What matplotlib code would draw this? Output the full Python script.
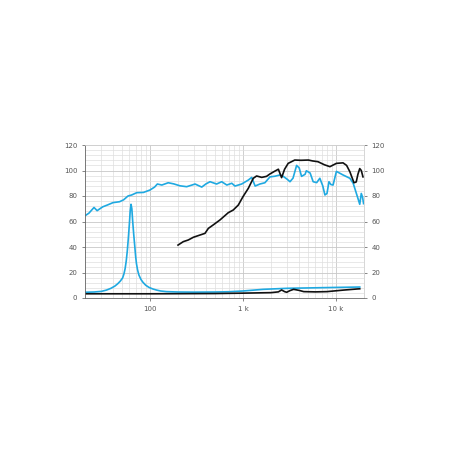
import matplotlib
matplotlib.use("Agg")
import matplotlib.pyplot as plt
from matplotlib.ticker import FixedLocator, MultipleLocator, LogLocator, NullFormatter

# blue curve (woofer) SPL
blue_spl_f = [20, 22, 25, 27, 31, 35, 40, 47, 52, 58, 63.5, 72, 85, 100, 112, 120, 134,
              157, 180, 210, 248, 280, 305, 360, 400, 442, 520, 590, 670, 757, 820, 967,
              1140, 1240, 1350, 1520, 1720, 1950, 2200, 2500, 2700, 3000, 3200, 3450, 3770,
              4020, 4260, 4650, 4800, 5270, 5680, 6200, 6700, 7200, 7600, 8000, 8400, 8800,
              9300, 10100, 11900, 14100, 15300, 17200, 18000, 18700, 19300, 19800]
blue_spl_db = [64.5, 66.5, 71, 68.5, 71.5, 73, 74.8, 75.5, 77, 80, 80.8, 82.6, 82.8, 84.7,
               87, 89.4, 88.6, 90.4, 89.5, 88, 87.3, 88.5, 89.4, 87, 89.5, 91.2, 89.4, 91.2,
               88.6, 90, 87.8, 89.4, 92.5, 94.6, 87.8, 89.4, 90.4, 95, 95.5, 96.5, 95.5, 93,
               91.2, 94, 104, 102, 95.4, 97, 99.8, 98, 91.2, 90.5, 93.9, 88, 80.8, 82, 91.2,
               89, 88.6, 99.3, 96.5, 93.9, 90, 78.2, 73.5, 82, 79, 74]

# black curve (tweeter) SPL
black_spl_f = [200, 215, 228, 258, 292, 345, 390, 424, 478, 565, 694, 785, 890, 1000, 1140,
               1290, 1400, 1590, 1790, 1950, 2200, 2400, 2600, 2800, 3060, 3600, 4200, 5050,
               5600, 6400, 7500, 8600, 10100, 11900, 13000, 14100, 15600, 16500, 17200,
               18000, 18700, 19500]
black_spl_db = [41.5, 43, 44.2, 45.5, 47.6, 49.4, 50.7, 54.6, 57.3, 61.2, 66.9, 69, 72.9,
                79.5, 86, 93.9, 95.7, 94.6, 95.4, 97.3, 99.5, 101, 94.4, 101, 105.6, 108.2,
                108, 108.2, 107.5, 106.9, 104.5, 103, 105.6, 106, 104, 99, 90.4, 91, 97,
                101.5, 100, 95]

# impedance curves
blue_imp_f = [20, 25, 30, 34, 38, 42, 45, 48, 50.8, 52.5, 54, 55.5, 57, 58.5, 60, 61.2,
              62.5, 63.8, 65, 66.8, 68.5, 70, 71.5, 73.5, 76, 80, 84, 90, 97.6, 107, 118,
              130, 150, 200, 300, 500, 700, 1000, 1650, 3000, 10000, 18000]
blue_imp_ohm = [4.5, 4.7, 5.2, 6.2, 7.6, 9.4, 11.2, 13.3, 15.8, 19, 23, 29, 37, 47, 58, 68,
                73.5, 70, 61, 50, 41, 33, 27, 22, 18, 14.5, 12.3, 10, 8.3, 7.1, 6.2,
                5.5, 5.0, 4.7, 4.6, 4.7, 4.9, 5.5, 6.8, 7.6, 8.3, 8.6]

black_imp_f = [20, 100, 500, 1000, 2000, 2400, 2600, 2800, 2950, 3200, 3500, 4000, 4500,
               6000, 8000, 12000, 17000, 18000]
black_imp_ohm = [3.3, 3.3, 3.5, 3.8, 4.2, 4.8, 6.3, 5.0, 4.5, 5.8, 6.8, 6.0, 5.0, 4.8, 5.0,
                 6.2, 7.1, 7.2]

blue = "#1fa9e1"
black = "#111111"

fig = plt.figure(figsize=(4.5, 4.5), dpi=100)
ax = fig.add_axes([85 / 450, 1 - 298 / 450, 279 / 450, 153 / 450])

ax.plot(blue_imp_f, blue_imp_ohm, color=blue, lw=1.2)
ax.plot(black_imp_f, black_imp_ohm, color=black, lw=1.2)
ax.plot(blue_spl_f, blue_spl_db, color=blue, lw=1.2)
ax.plot(black_spl_f, black_spl_db, color=black, lw=1.2)

ax.set_xscale("log")
ax.set_xlim(20, 20000)
ax.set_ylim(0, 120)

ax.xaxis.set_major_locator(FixedLocator([100, 1000, 10000]))
ax.set_xticklabels(["100", "1 k", "10 k"])
ax.xaxis.set_minor_locator(LogLocator(base=10, subs=range(2, 10)))
ax.xaxis.set_minor_formatter(NullFormatter())
ax.yaxis.set_major_locator(MultipleLocator(20))
ax.yaxis.set_minor_locator(MultipleLocator(4))

ax.grid(True, which="major", color="#c8c8c8", lw=0.6)
ax.grid(True, which="minor", color="#dedede", lw=0.5)
ax.set_axisbelow(True)

ax.tick_params(which="both", labelsize=5, colors="#555555", length=2, width=0.5,
               labelright=True, right=True)
ax.tick_params(which="minor", length=0)
for side in ["top", "right"]:
    ax.spines[side].set_color("#d0d0d0")
    ax.spines[side].set_linewidth(0.6)
for side in ["left", "bottom"]:
    ax.spines[side].set_color("#666666")
    ax.spines[side].set_linewidth(0.6)

fig.savefig("out.png", dpi=100)
